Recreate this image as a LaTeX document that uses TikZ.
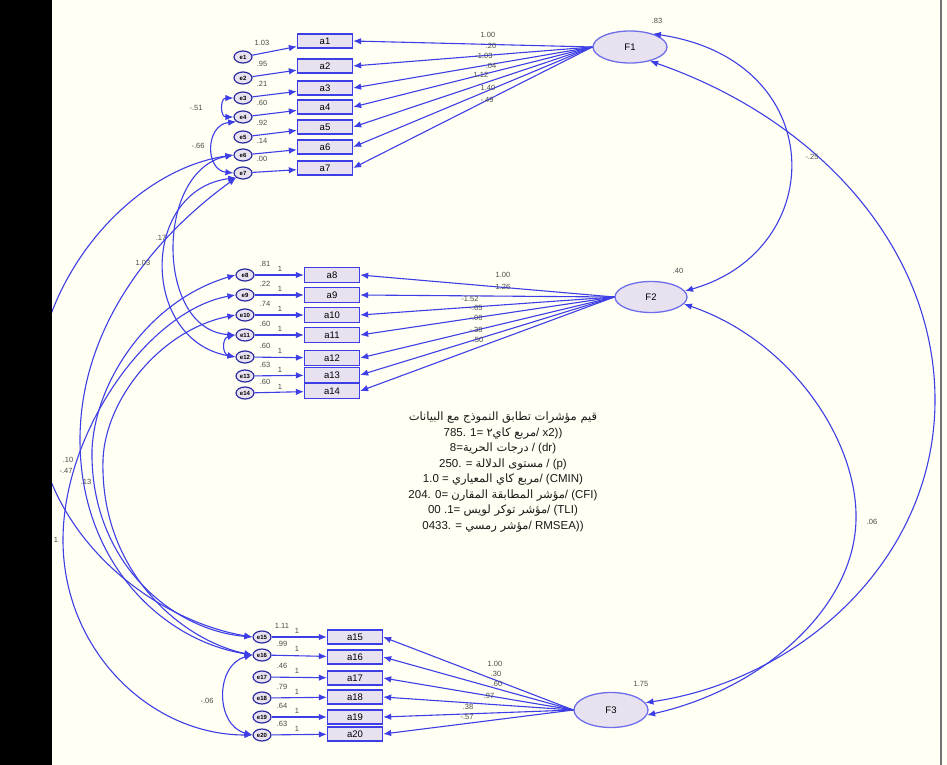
\documentclass[tikz,border=0pt]{standalone}
\usepackage{fontspec}
\setmainfont{Liberation Sans}
\newfontfamily\arabicfont[Script=Arabic]{DejaVu Sans}
\TeXXeTstate=1
\usepackage{xcolor}
\usetikzlibrary{arrows.meta,shapes.geometric}
\definecolor{pathblue}{RGB}{62,62,230}
\definecolor{boxfill}{RGB}{232,226,240}
\definecolor{bgcream}{RGB}{255,255,243}
\newcommand{\ar}[1]{{\arabicfont\beginR #1\endR}}

\begin{document}
\begin{tikzpicture}[x=1pt, y=-1pt,
  item/.style={draw=pathblue, fill=boxfill, line width=1.3pt, minimum width=55pt, minimum height=14pt, inner sep=0pt, font=\fontsize{9.5}{9.5}\selectfont},
  factor/.style={ellipse, draw=pathblue!75, fill=boxfill, line width=1.3pt, minimum width=74pt, minimum height=32pt, inner sep=0pt, font=\fontsize{9.5}{9.5}\selectfont},
  err/.style={ellipse, draw=pathblue!70!black, fill=boxfill, line width=1.2pt, minimum width=18pt, minimum height=12pt, inner sep=0pt, font=\fontsize{6}{6}\selectfont\bfseries},
  arr/.style={-{Latex[length=8pt,width=6.5pt]}, line width=1.1pt, draw=pathblue},
  cov/.style={{Latex[length=8pt,width=6.5pt]}-{Latex[length=8pt,width=6.5pt]}, line width=1.1pt, draw=pathblue},
  lbl/.style={font=\fontsize{7.5}{7.5}\selectfont, text=black!70, inner sep=0pt}]
\fill[bgcream] (0,0) rectangle (947,765);
\useasboundingbox (0,0) rectangle (947,765);
% factors
\node[factor] (F1) at (630,47) {F1};
\node[factor, minimum width=72pt, minimum height=31pt] (F2) at (651,297) {F2};
\node[factor, minimum height=35pt] (F3) at (611,710) {F3};
% first block
\foreach \i/\y/\ey/\v in {1/41/57/1.03, 2/66/78/.95, 3/88/98/.21, 4/107/117/.60, 5/127/137/.92, 6/147/155/.14, 7/168/173/.00} {
  \node[item] (a\i) at (325,\y) {a\i};
  \node[err] (e\i) at (243,\ey) {e\i};
  \node[lbl] (v\i) at (262,\ey-14) {\v};
  \draw[arr] (e\i) -- (a\i);
  \draw[arr] (F1.west) -- (a\i.east);
}
% second block
\foreach \i/\y/\ey/\v in {8/275/275/.81, 9/295/295/.22, 10/315/315/.74, 11/335/335/.60, 12/358/357/.60, 13/375/376/.63, 14/391/393/.60} {
  \node[item, minimum height=15pt] (a\i) at (332,\y) {a\i};
  \node[err] (e\i) at (245,\ey) {e\i};
  \node[lbl] (v\i) at (265,\ey-11) {\v};
  \node[lbl] (o\i) at (280,\ey-6) {1};
  \draw[arr] (e\i) -- (a\i);
  \draw[arr] (F2.west) -- (a\i.east);
}
% third block
\foreach \i/\y/\ey/\v in {15/637/637/1.11, 16/657/655/.99, 17/678/677/.46, 18/697/698/.79, 19/717/717/.64, 20/734/735/.63} {
  \node[item] (a\i) at (355,\y) {a\i};
  \node[err] (e\i) at (262,\ey) {e\i};
  \node[lbl] (v\i) at (282,\ey-11) {\v};
  \node[lbl] (o\i) at (297,\ey-6) {1};
  \draw[arr] (e\i) -- (a\i);
  \draw[arr] (F3.west) -- (a\i.east);
}
% loadings
\foreach \x/\y/\t [count=\n] in {488/35/1.00, 491/46/.20, 484/56/-1.03, 491/66/.04, 481/75/1.12, 488/88/1.40, 487/100/-.49,
  503/275/1.00, 503/287/1.26, 470/299/-1.52, 476/308/-.65, 476/318/-.06, 476/330/-.38, 478/340/.50,
  495/664/1.00, 496/674/.30, 497/684/.60, 489/696/.97, 468/707/.38, 467/717/-.57}
  \node[lbl] (l\n) at (\x,\y) {\t};
% variances and covariances of factors
\node[lbl] (vF1) at (657,21) {.83};
\node[lbl] (vF2) at (678,271) {.40};
\node[lbl] (vF3) at (641,684) {1.75};
\draw[cov] (F1.30) .. controls (830,60) and (830,250) .. (F2.10);
\draw[cov] (F1.-35) .. controls (820,120) and (935,250) .. (935,400) .. controls (935,560) and (800,680) .. (F3.12);
\draw[cov] (F2.-12) .. controls (790,340) and (858,440) .. (856,520) .. controls (854,610) and (760,690) .. (F3.-8);
\node[lbl] (c12) at (812,157) {-.25};
\node[lbl] (c23) at (872,522) {.06};
% error covariances
\draw[cov] (e3.west) .. controls (220,98) and (220,117) .. (e4.west);
\draw[cov] (e4.south west) .. controls (205,125) and (205,170) .. (e7.west);
\draw[cov] (e7.south west) .. controls (140,190) and (140,340) .. (e12.west);
\draw[cov] (e6.west) .. controls (155,170) and (155,330) .. (e11.west);
\draw[cov] (e6.west) .. controls (130,170) and (35,280) .. (35,400) .. controls (35,530) and (150,620) .. (e15.west);
\draw[cov] (e7.south west) .. controls (150,240) and (80,330) .. (80,440) .. controls (80,560) and (160,640) .. (e16.west);
\draw[cov] (e8.west) .. controls (150,300) and (95,380) .. (92,450) .. controls (90,560) and (170,630) .. (e15.west);
\draw[cov] (e10.west) .. controls (160,330) and (105,400) .. (103,460) .. controls (100,570) and (180,640) .. (e16.west);
\draw[cov] (e9.west) .. controls (150,310) and (63,430) .. (63,540) .. controls (63,650) and (150,735) .. (e20.west);
\draw[cov] (e11.west) .. controls (222,338) and (222,354) .. (e12.west);
\draw[cov] (e16.west) .. controls (215,665) and (215,725) .. (e20.west);
\node[lbl] (c34) at (196,108) {-.51};
\node[lbl] (c47) at (198,146) {-.66};
\node[lbl] (c712) at (161,238) {.17};
\node[lbl] (c611) at (143,263) {1.03};
\node[lbl] (c1620) at (207,701) {-.06};
\node[lbl] (c615) at (68,460) {.10};
\node[lbl] (c716) at (66,471) {-.47};
\node[lbl] (c815) at (86,482) {.13};
\node[lbl] (c920) at (56,540) {1};
% fit indices
\node[font=\fontsize{11.5}{15.5}\selectfont, align=center, text=black!90] (fit) at (503,472) {%
  \ar{قيم مؤشرات تطابق النموذج مع البيانات}\\
  785. 1= \ar{مربع كاي٢}/ x2))\\
  8=\ar{درجات الحرية} / (dr)\\
  250. = \ar{مستوى الدلالة} / (p)\\
  1.0 = \ar{مربع كاي المعياري}/ (CMIN)\\
  204. 0= \ar{مؤشر المطابقة المقارن}/ (CFI)\\
  00 .1= \ar{مؤشر توكر لويس}/ (TLI)\\
  0433. = \ar{مؤشر رمسي}/ RMSEA))};
% frame edges
\fill[black] (0,0) rectangle (52,765);
\draw[black!55, line width=2pt] (941,0) -- (941,765);
\end{tikzpicture}
\end{document}
